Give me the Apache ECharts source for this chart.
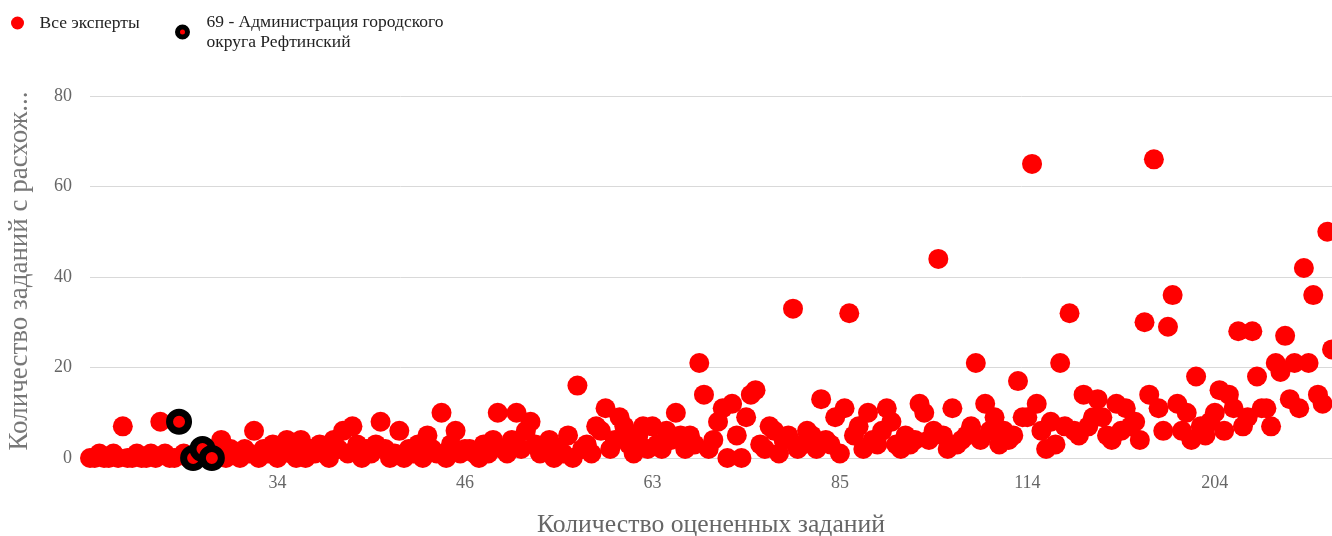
<!DOCTYPE html>
<html><head><meta charset="utf-8">
<script src="https://cdn.jsdelivr.net/npm/echarts@6/dist/echarts.min.js"></script>
<style>html,body{margin:0;padding:0;background:#fff}#c{width:1332px;height:536px}</style>
</head><body><div id="c"></div>
<script>
// x categories: number of evaluated tasks, one row per expert (sorted)
const categories = [
  20,20,21,21,21,22,22,22,23,23,
  23,24,24,24,25,25,25,26,26,26,
  27,27,27,28,28,28,29,29,29,30,
  30,30,31,31,31,32,32,33,33,33,
  34,34,34,35,35,35,36,36,36,37,
  37,37,38,38,38,39,39,39,40,40,
  40,41,41,41,42,42,42,43,43,43,
  43,44,44,44,44,45,45,45,45,45,
  46,46,47,47,48,48,48,49,49,50,
  50,50,51,51,52,52,52,53,53,54,
  54,55,55,55,56,56,57,57,58,58,
  58,59,59,60,60,61,61,62,62,62,
  63,63,64,64,65,65,66,66,67,67,
  68,68,69,69,70,70,71,72,72,73,
  73,74,74,75,76,76,77,77,78,79,
  79,80,80,81,82,82,83,83,84,84,
  85,86,86,87,88,88,89,90,90,91,
  92,92,93,94,94,95,96,96,97,98,
  98,99,100,101,101,102,103,104,105,106,
  106,107,108,108,109,110,111,112,112,113,
  114,115,117,118,120,122,124,125,127,129,
  131,133,135,137,139,141,143,145,148,150,
  152,155,157,160,162,165,168,170,173,176,
  178,181,184,186,189,191,194,196,199,202,
  204,207,210,214,218,222,226,231,235,240,
  245,250,256,262,268,275,282,290,298,306,
  315,325,336,348,362,378
].map(String);

// y: number of tasks with discrepancies, per row
const allExperts = [
  0,0,1,0,0,1,0,7,0,0,
  1,0,0,1,0,8,1,0,0,8,
  1,0,0,1,2,0,0,1,4,0,
  2,1,0,2,1,6,0,2,1,3,
  0,1,4,1,0,4,0,2,1,3,
  1,0,4,2,6,1,7,3,0,2,
  1,3,8,2,0,1,6,0,2,1,
  3,0,5,2,1,10,0,3,6,1,
  2,2,1,0,3,1,4,10,2,1,
  4,10,2,6,8,3,1,2,4,0,
  2,1,5,0,16,2,3,1,7,6,
  11,2,4,9,7,3,1,5,7,2,
  7,3,2,6,4,10,5,2,5,3,
  21,14,2,4,8,11,0,12,5,0,
  9,14,15,3,2,7,6,1,4,5,
  33,2,3,6,5,2,13,4,3,9,
  1,11,32,5,7,2,10,4,3,6,
  11,8,3,2,5,3,4,12,10,4,
  6,44,5,2,11,3,4,5,7,21,
  4,12,6,9,3,6,4,5,17,9,
  9,65,12,6,2,8,3,21,7,32,
  6,5,14,7,9,13,9,5,4,12,
  6,11,7,8,4,30,14,66,11,6,
  29,36,12,6,10,4,18,7,5,8,
  10,15,6,14,11,28,7,9,28,18,
  11,11,7,21,19,27,13,21,11,42,
  21,36,14,12,50,24
];

// rows belonging to "69 - Администрация городского округа Рефтинский"
const highlightRows = [19, 22, 24, 26];

const tickLabels = ['34', '46', '63', '85', '114', '204'];
const yTicks = [0, 20, 40, 60, 80];

const nameAll = 'Все эксперты';
const nameOrg = '69 - Администрация городского\nокруга Рефтинский';
const xTitle = 'Количество оцененных заданий';
const yTitle = 'Количество заданий с расхож...';

const FONT = '"Liberation Serif", "DejaVu Serif", serif';
const chart = echarts.init(document.getElementById('c'), null, {renderer: 'canvas'});

const highlightData = allExperts.map((v, i) => highlightRows.includes(i) ? v : '-');

chart.setOption({
  animation: false,
  backgroundColor: '#fff',
  textStyle: {fontFamily: FONT},
  legend: [
    {
      left: 11, top: 14, padding: 0, orient: 'horizontal',
      itemWidth: 34, itemHeight: 13,
      textStyle: {fontFamily: FONT, fontSize: 17.5, color: '#222'},
      data: [{name: nameAll, icon: 'circle', itemStyle: {color: '#ff0000', borderWidth: 0}}],
      selectedMode: false
    },
    {
      left: 175, top: 12, padding: 0, orient: 'horizontal',
      itemWidth: 38, itemHeight: 10,
      textStyle: {fontFamily: FONT, fontSize: 17.5, color: '#222', lineHeight: 20},
      data: [{name: nameOrg, icon: 'circle', itemStyle: {color: '#ff0000', borderColor: '#000', borderWidth: 5}}],
      selectedMode: false
    }
  ],
  grid: {left: 90, right: 0, top: 96, bottom: 78, containLabel: false, outerBoundsMode: 'none'},
  xAxis: {
    type: 'category',
    data: categories,
    boundaryGap: false,
    name: xTitle,
    nameLocation: 'middle',
    nameGap: 54,
    nameTextStyle: {fontFamily: FONT, fontSize: 25.7, color: '#666'},
    axisLine: {show: true, lineStyle: {color: '#d9d9d9', width: 1}},
    axisTick: {show: false},
    splitLine: {show: false},
    axisLabel: {
      margin: 16,
      fontFamily: FONT, fontSize: 18, color: '#666',
      interval: (i, v) => tickLabels.includes(v) && (i === 0 || categories[i - 1] !== v)
    }
  },
  yAxis: {
    type: 'value',
    min: yTicks[0], max: yTicks[yTicks.length - 1], interval: yTicks[1] - yTicks[0],
    name: yTitle,
    nameLocation: 'middle',
    nameGap: 57,
    nameRotate: 90,
    nameTextStyle: {fontFamily: FONT, fontSize: 27, color: '#777', padding: [0, 0, 0, 12]},
    axisLine: {show: false},
    axisTick: {show: false},
    splitLine: {show: true, lineStyle: {color: '#d9d9d9', width: 1}},
    axisLabel: {margin: 18, fontFamily: FONT, fontSize: 18, color: '#666'}
  },
  series: [
    {
      name: nameAll, type: 'scatter', data: allExperts,
      symbol: 'circle', symbolSize: 20,
      itemStyle: {color: '#ff0000', opacity: 1},
      emphasis: {disabled: true}, z: 2
    },
    {
      name: nameOrg, type: 'scatter', data: highlightData,
      symbol: 'circle', symbolSize: 19,
      itemStyle: {color: '#ff0000', borderColor: '#000', borderWidth: 7, opacity: 1},
      emphasis: {disabled: true}, z: 3
    }
  ]
});
</script>
</body></html>
